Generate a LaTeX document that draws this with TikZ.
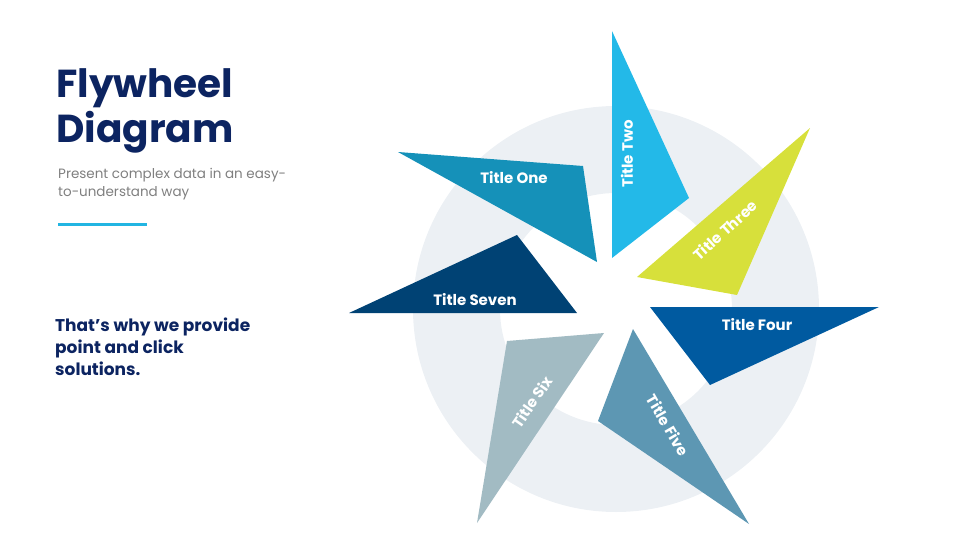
\documentclass[tikz,border=0pt]{standalone}
\usepackage{fontspec}
\setmainfont{Poppins}

\definecolor{navy}{HTML}{0C2461}
\definecolor{greytext}{HTML}{7F7F7F}
\definecolor{accent}{HTML}{22B5E2}
\definecolor{ringgrey}{HTML}{ECF0F4}
\definecolor{oneblue}{HTML}{1591B9}
\definecolor{twoblue}{HTML}{23B9E8}
\definecolor{threelime}{HTML}{D7E03B}
\definecolor{fourblue}{HTML}{005AA0}
\definecolor{fivesteel}{HTML}{5D97B3}
\definecolor{sixgrey}{HTML}{A2BBC3}
\definecolor{sevennavy}{HTML}{004274}

\tikzset{
  bladetext/.style={text=white, inner sep=0pt, font=\bfseries\fontsize{15}{15}\selectfont},
  headline/.style={text=navy, anchor=north west, inner sep=0pt, align=left},
}

\begin{document}
\begin{tikzpicture}[x=1pt, y=-1pt]
    \useasboundingbox (0,0) rectangle (980,551);

    % Left text
    \node[headline, font=\bfseries\fontsize{39}{45}\selectfont] (title) at (56,68) {Flywheel\\Diagram};
    \node[headline, text=greytext, font=\fontsize{13.5}{18}\selectfont] (sub) at (58,168) {Present complex data in an easy-\\to-understand way};
    \draw[accent, line width=3pt] (58,224) -- (147,224);
    \node[headline, font=\bfseries\fontsize{17}{22}\selectfont] (why) at (55,318) {That's why we provide\\point and click\\solutions.};

    % Ring
    \fill[ringgrey, even odd rule] (616,309) circle[radius=203pt] (616,309) circle[radius=116pt];

    % Blades
    \fill[oneblue] (398,152) -- (583,166) -- (597,262) -- cycle;
    \fill[twoblue] (612,31) -- (689,198) -- (612,258) -- cycle;
    \fill[threelime] (810,128) -- (737,295) -- (637,277) -- cycle;
    \fill[fourblue] (879,307) -- (710,385) -- (650,307) -- cycle;
    \fill[fivesteel] (749,524) -- (598,421) -- (633,329) -- cycle;
    \fill[sixgrey] (477,523) -- (507,341) -- (604,333) -- cycle;
    \fill[sevennavy] (349,313) -- (517,235) -- (577,313) -- cycle;

    % Titles
    \node[bladetext] (one) at (514,178) {Title One};
    \node[bladetext, rotate=90] (two) at (627,154) {Title Two};
    \node[bladetext, rotate=42] (three) at (725,230) {Title Three};
    \node[bladetext] (four) at (757,325) {Title Four};
    \node[bladetext, rotate=-60] (five) at (668,425) {Title Five};
    \node[bladetext, rotate=55] (six) at (532,402) {Title Six};
    \node[bladetext] (seven) at (475,300) {Title Seven};

\end{tikzpicture}
\end{document}
